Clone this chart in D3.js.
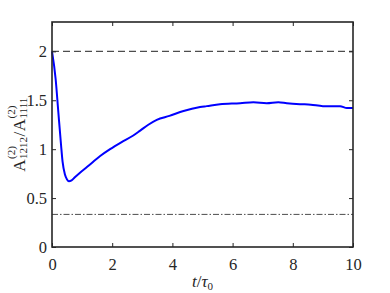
<!DOCTYPE html>
<html>
<head>
<meta charset="utf-8">
<script src="https://cdn.jsdelivr.net/npm/d3@7"></script>
<style>
  body { margin: 0; background: #fff; }
  svg text { font-family: "Liberation Serif", "Times New Roman", Times, "DejaVu Serif", serif; fill: #262626; }
</style>
</head>
<body>
<svg id="chart" width="390" height="293"></svg>
<script>
// data
const tValues = [0, 0.12, 0.21, 0.3, 0.35, 0.43, 0.5, 0.56, 0.65, 0.75, 0.93, 1.17, 1.6, 1.93, 2.3, 2.7, 2.93, 3.2, 3.48, 3.9, 4.37, 4.92, 5.14, 5.58, 6.25, 6.69, 7.13, 7.52, 7.8, 8.24, 8.6, 9.0, 9.3, 9.57, 9.8, 10]
const ratioValues = [2.0, 1.72, 1.38, 1.045, 0.875, 0.74, 0.69, 0.672, 0.68, 0.71, 0.76, 0.82, 0.93, 1.0, 1.07, 1.14, 1.19, 1.25, 1.30, 1.34, 1.39, 1.43, 1.44, 1.46, 1.47, 1.48, 1.47, 1.48, 1.47, 1.46, 1.455, 1.44, 1.44, 1.44, 1.42, 1.42]
const upperLimit = 2
const lowerLimit = 1 / 3
const xTicks = [0, 2, 4, 6, 8, 10]
const yTicks = [0, 0.5, 1, 1.5, 2]

const margin = { top: 22, left: 52, right: 37, bottom: 46 },
    width = 390 - margin.left - margin.right,
    height = 293 - margin.top - margin.bottom

const serif = '"Liberation Serif", "Times New Roman", Times, "DejaVu Serif", serif'

const svg = d3.select("#chart")
const g = svg.append("g").attr("transform", `translate(${margin.left},${margin.top})`)

const x = d3.scaleLinear().domain([0, 10]).range([0, width])
const y = d3.scaleLinear().domain([0, 2.3]).range([height, 0])

// reference lines
g.append("line")
    .attr("x1", x(0)).attr("x2", x(10))
    .attr("y1", y(upperLimit)).attr("y2", y(upperLimit))
    .attr("stroke", "#4d4d4d").attr("stroke-width", 1.2)
    .attr("stroke-dasharray", "7,4")

g.append("line")
    .attr("x1", x(0)).attr("x2", x(10))
    .attr("y1", y(lowerLimit)).attr("y2", y(lowerLimit))
    .attr("stroke", "#4d4d4d").attr("stroke-width", 1)
    .attr("stroke-dasharray", "6,2,1.5,2")

// curve
const line = d3.line()
    .x((d, i) => x(tValues[i]))
    .y(d => y(d))
    .curve(d3.curveMonotoneX)

g.append("path")
    .datum(ratioValues)
    .attr("d", line)
    .attr("fill", "none")
    .attr("stroke", "#0000ff")
    .attr("stroke-width", 2)

// axes with inward ticks, box
const axisColor = "#262626"
const styleAxis = sel => {
    sel.attr("font-family", serif)
    sel.select(".domain").remove()
    sel.selectAll(".tick line").attr("stroke", axisColor).attr("stroke-width", 1)
    sel.selectAll(".tick text").attr("font-size", 16.5).attr("fill", axisColor)
        .style("font-family", serif)
}

g.append("g").attr("transform", `translate(0,${height})`)
    .call(d3.axisBottom(x).tickValues(xTicks).tickSize(-4).tickPadding(11).tickFormat(d3.format("d")))
    .call(styleAxis)
g.append("g")
    .call(d3.axisTop(x).tickValues(xTicks).tickSize(-4).tickFormat(""))
    .call(styleAxis)
g.append("g")
    .call(d3.axisLeft(y).tickValues(yTicks).tickSize(-4).tickPadding(5).tickFormat(d => d))
    .call(styleAxis)
g.append("g").attr("transform", `translate(${width},0)`)
    .call(d3.axisRight(y).tickValues(yTicks).tickSize(-4).tickFormat(""))
    .call(styleAxis)

g.append("rect")
    .attr("width", width).attr("height", height)
    .attr("fill", "none").attr("stroke", axisColor).attr("stroke-width", 1.6)

// x label
const xl = svg.append("text")
    .attr("x", margin.left + width / 2).attr("y", 287)
    .attr("text-anchor", "middle").attr("font-size", 17)
xl.append("tspan").attr("font-style", "italic").text("t")
xl.append("tspan").text("/")
xl.append("tspan").attr("font-style", "italic").text("τ")
xl.append("tspan").attr("font-size", 11).attr("dy", 3).text("0")

// y label: A^(2)_1212 / A^(2)_1111
const yl = svg.append("g")
let cx = 0
function addA(sub) {
    const a = yl.append("text").attr("x", cx).attr("y", 0).attr("font-size", 17).text("A")
    cx += a.node().getComputedTextLength() + 0.5
    const sup = yl.append("text").attr("x", cx).attr("y", -10).attr("font-size", 11).text("(2)")
    const sb = yl.append("text").attr("x", cx).attr("y", 1.5).attr("font-size", 11).text(sub)
    cx += Math.max(sup.node().getComputedTextLength(), sb.node().getComputedTextLength()) + 0.5
}
addA("1212")
const slash = yl.append("text").attr("x", cx).attr("y", 0).attr("font-size", 17).text("/")
cx += slash.node().getComputedTextLength() + 0.5
addA("1111")
yl.attr("transform", `translate(25,${margin.top + height / 2}) rotate(-90) translate(${-cx / 2},0)`)
</script>
</body>
</html>
